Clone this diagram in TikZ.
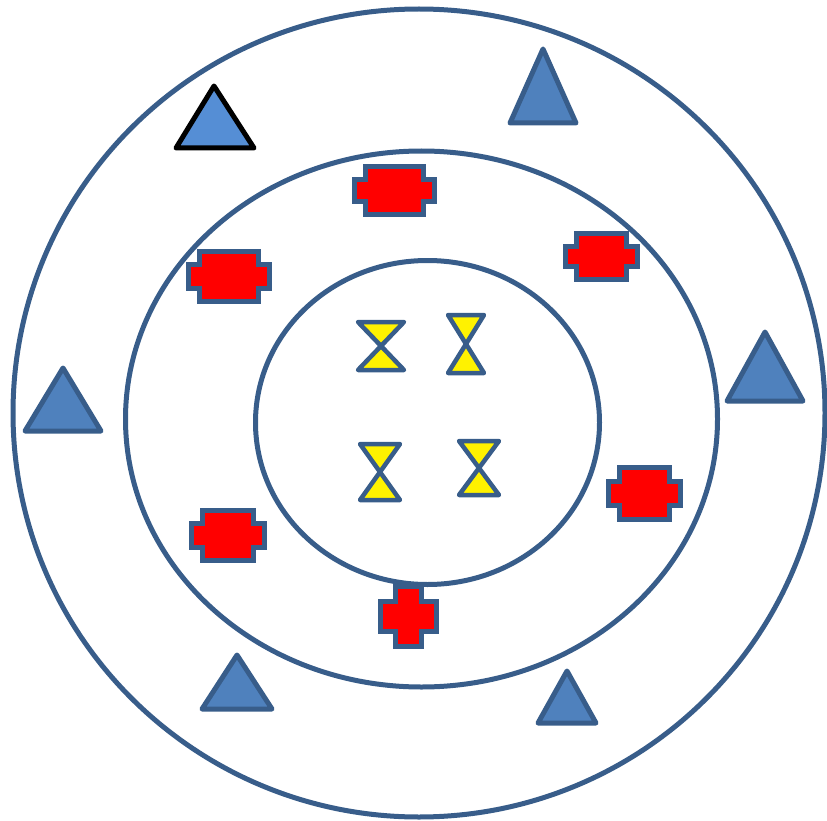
\documentclass[tikz,border=0pt]{standalone}
\usepackage{tikz}

\definecolor{edgeblue}{RGB}{56,93,138}
\definecolor{triblue}{RGB}{79,129,189}
\definecolor{lightblue}{RGB}{85,142,213}

\begin{document}
\begin{tikzpicture}[
    x=1pt, y=-1pt,
    ring/.style={draw=edgeblue, line width=5pt},
    tri/.style={draw=edgeblue, fill=triblue, line width=5pt, line join=round},
    crossbox/.style={draw=edgeblue, fill=red, line width=5pt},
    glass/.style={draw=edgeblue, fill=yellow, line width=4.5pt, line join=round},
]
\useasboundingbox (0,0) rectangle (827,821);

% Rings
\draw[ring] (419,413) ellipse [x radius=406pt, y radius=404pt];
\draw[ring] (421.5,419) ellipse [x radius=296pt, y radius=268pt];
\draw[ring] (427.5,422.5) ellipse [x radius=172pt, y radius=162pt];

% Triangles
\foreach \ax/\ay/\hb/\by in {543/49/33/123, 765/332/38/401, 63/368/38/431,
                             237/655/35/709, 567/671/29/723} {
  \draw[tri] (\ax,\ay) -- ({\ax+\hb},\by) -- ({\ax-\hb},\by) -- cycle;
}
\draw[tri, draw=black, fill=lightblue] (214,86) -- (254,148) -- (176,148) -- cycle;

% Red crosses
\foreach \cx/\cy/\w/\h/\dx/\dy in {394/191/80/48/11/13, 229/276/81/50/11/13,
                                   601/256/72/46/11/13, 644/493/72/52/11/14,
                                   228/535/73/50/11/13, 408/616/56/60/15/15} {
  \pgfmathsetmacro{\hw}{\w/2}
  \pgfmathsetmacro{\hh}{\h/2}
  \draw[crossbox] ({\cx-\hw+\dx},{\cy-\hh}) -- ({\cx+\hw-\dx},{\cy-\hh})
    -- ({\cx+\hw-\dx},{\cy-\hh+\dy}) -- ({\cx+\hw},{\cy-\hh+\dy})
    -- ({\cx+\hw},{\cy+\hh-\dy}) -- ({\cx+\hw-\dx},{\cy+\hh-\dy})
    -- ({\cx+\hw-\dx},{\cy+\hh}) -- ({\cx-\hw+\dx},{\cy+\hh})
    -- ({\cx-\hw+\dx},{\cy+\hh-\dy}) -- ({\cx-\hw},{\cy+\hh-\dy})
    -- ({\cx-\hw},{\cy-\hh+\dy}) -- ({\cx-\hw+\dx},{\cy-\hh+\dy}) -- cycle;
}

% Hourglasses
\foreach \cx/\cy/\hw/\hh in {381/346/23/24, 466/344/18/29,
                             380/472/20/28, 479/468/20/27} {
  \draw[glass] ({\cx-\hw},{\cy-\hh}) -- ({\cx+\hw},{\cy-\hh}) -- (\cx,\cy) -- cycle;
  \draw[glass] (\cx,\cy) -- ({\cx+\hw},{\cy+\hh}) -- ({\cx-\hw},{\cy+\hh}) -- cycle;
}
\end{tikzpicture}
\end{document}
